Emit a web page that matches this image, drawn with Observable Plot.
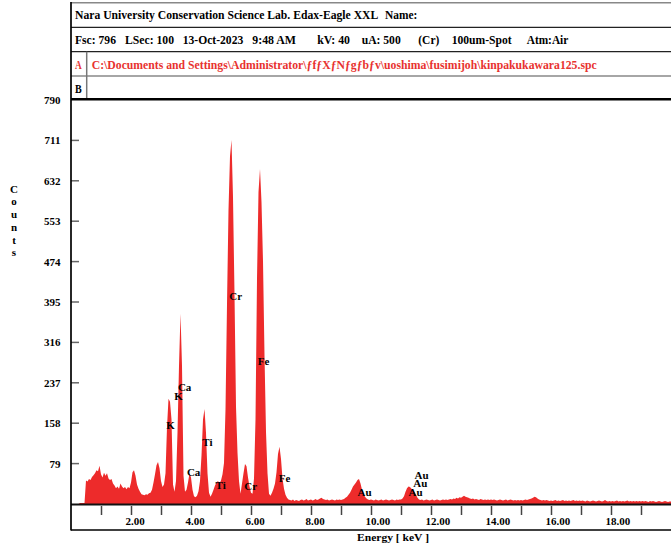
<!DOCTYPE html>
<html><head><meta charset="utf-8">
<script src="https://cdn.jsdelivr.net/npm/d3@7"></script>
<script src="https://cdn.jsdelivr.net/npm/@observablehq/plot@0.6"></script>
<style>
html,body{margin:0;padding:0;background:#fff;}
#chart{position:relative;width:671px;height:550px;overflow:hidden;}
</style></head><body><div id="chart"></div>
<script>
// ---- data ----
const keVStep = 0.05; // channel grid of the values below
const counts = [
  0,0,0,0,0,0,2,2,2,2, 46,44,49,47,53,56,60,66,64,75,
  58,52,61,55,60,50,47,49,40,36, 31,34,30,40,34,31,33,29,33,31,
  42,62,66,55,38,30,24,19,18,17, 19,18,21,22,28,42,58,76,82,70,
  45,33,38,60,150,206,200,165,38,24, 45,140,270,372,270,55,24,28,42,60,
  52,28,15,13,16,25,45,95,165,186, 139,60,22,14,20,28,36,42,45,40,
  46,58,80,185,390,575,680,712,600,410, 190,100,45,20,40,60,78,74,52,34,
  22,20,50,165,440,610,655,590,475,290, 141,60,20,16,22,30,40,62,98,112,
  88,50,30,18,12,9,8,7,9,6, 8,7,6,8,9,7,8,10,7,8,
  9,7,8,10,8,9,11,12,10,9, 8,9,7,8,9,8,7,9,8,9,
  8,9,10,12,14,18,22,28,34,38, 42,47,49,40,28,20,14,11,9,8,
  9,8,7,9,8,7,8,9,7,8, 9,8,7,8,9,8,7,9,8,9,
  9,11,15,24,31,34,33,30,27,23, 18,12,9,8,9,7,8,9,8,7,
  8,9,7,8,9,8,7,8,9,8, 9,8,9,10,9,11,10,12,11,13,
  12,14,16,14,13,12,11,10,11,9, 10,9,8,10,9,8,9,8,9,8,
  9,8,9,8,7,8,9,8,7,8, 9,7,8,9,8,7,8,7,8,7,
  8,7,8,9,8,9,10,11,12,14, 13,11,9,8,7,8,7,8,7,6,
  7,6,7,8,6,7,6,7,8,6, 7,6,7,6,7,8,6,7,6,7,
  6,7,6,5,7,6,5,6,7,6, 5,6,7,6,5,6,8,6,5,6,
  5,6,5,6,7,5,6,5,6,5, 6,7,5,6,5,6,5,6,5,6,
  5,6,5,6,5,4,6,5,6,5, 4,5,6,5,4,5,6,5,4,5,
  5
];
const yTicks = [79,158,237,316,395,474,553,632,711,790];
const xTicks = [1,2,3,4,5,6,7,8,9,10,11,12,13,14,15,16,17,18,19];
const xTickLabels = [2,4,6,8,10,12,14,16,18];
const peakNames  = ["Cr","Fe","Ca","K","K","Ti","Ca","Ti","Cr","Fe","Au","Au","Au","Au"];
const peakEnergy = [5.47,6.40,3.77,3.57,3.30,4.53,4.07,4.97,5.97,7.10,9.77,11.67,11.63,11.47];
const peakCounts = [407,280,229,212,154,121,63,37,35,51,23,57,41,23];
const headerRow1 = ["Nara University Conservation Science Lab. Edax-Eagle XXL","Name:"];
const headerRow2 = ["Fsc: 796","LSec: 100","13-Oct-2023","9:48 AM","kV: 40","uA: 500","(Cr)","100um-Spot","Atm:Air"];
const fileA = "C:\\Documents and Settings\\Administrator\\ƒfƒXƒNƒgƒbƒv\\uoshima\\fusimijoh\\kinpakukawara125.spc";
const yTitle = "Counts";
const xTitle = "Energy [ keV ]";

// ---- build ----
const red = "#ed2b2b";
const font = "'Liberation Serif','Times New Roman',serif";
const spectrum = counts.map((c, i) => ({e: i * keVStep, c}));
const peaks = peakNames.map((n, i) => ({n, e: peakEnergy[i], c: peakCounts[i]}));

const plot = Plot.plot({
  width: 671, height: 550,
  marginLeft: 71, marginRight: 0, marginTop: 100, marginBottom: 46,
  x: {domain: [0, 20], label: null},
  y: {domain: [0, 790], label: null},
  style: {fontFamily: font, fontWeight: "bold", fontSize: "11px", background: "white", color: "black", overflow: "visible"},
  marks: [
    Plot.areaY(spectrum, {x: "e", y: "c", fill: red, curve: "linear"}),
    Plot.ruleY([0], {stroke: "#111", strokeWidth: 2}),
    Plot.axisY({ticks: yTicks, tickSize: 0, tickPadding: 11, tickFormat: d => String(d), label: null, fill: "black"}),
    Plot.axisX({ticks: xTicks, tickSize: 9, dy: 2, tickFormat: () => "", stroke: "#444", strokeWidth: 1.5, label: null}),
    Plot.axisX({ticks: xTickLabels, tickSize: 0, tickPadding: 13, tickFormat: d => d.toFixed(2), textAnchor: "start", dx: -6, label: null, fill: "black"}),
    Plot.text(peaks, {x: "e", y: "c", text: "n", fill: "black", fontWeight: "bold", fontSize: 11})
  ]
});
document.getElementById("chart").appendChild(plot);

const svg = d3.select(plot);
const g = svg.append("g").attr("font-family", font).attr("font-weight", "bold")
  .attr("font-size", 11).attr("text-anchor", "start");
function line(x1, y1, x2, y2, stroke, w) {
  g.append("line").attr("x1", x1).attr("y1", y1).attr("x2", x2).attr("y2", y2)
   .attr("stroke", stroke).attr("stroke-width", w);
}
function txt(s, x, y, len, fill, size) {
  const t = g.append("text").attr("x", x).attr("y", y).attr("fill", fill || "black")
    .attr("text-anchor", "start").text(s);
  if (size) t.attr("font-size", size);
  if (len) t.attr("textLength", len).attr("lengthAdjust", "spacingAndGlyphs");
  return t;
}
// y ticks (inside the frame), positioned by the plot's own y scale
const yScale = plot.scale("y");
yTicks.filter(v => v < 790).forEach(v => {
  const y = yScale.apply(v);
  line(71, y, 79, y, "#666", 1.5);
});
// header box
line(71, 2.7, 671, 2.7, "#888", 1.5);
line(71, 27.3, 671, 27.3, "#222", 1.3);
line(71, 51.7, 671, 51.7, "#222", 1.3);
line(71, 76, 671, 76, "#888", 1.5);
line(86.7, 51.7, 86.7, 99, "#777", 1.5);
line(71, 99.3, 671, 99.3, "#000", 2.5);
// plot box / left border
line(71, 2, 71, 530.5, "#000", 1.7);
line(71, 530, 671, 530, "#000", 1.5);

const hs = 12;
const r1 = [[75, 378.3], [385, 417.3]];
headerRow1.forEach((s, i) => txt(s, r1[i][0], 19.3, r1[i][1] - r1[i][0], "black", hs));
const r2 = [[75,116],[125,174],[182.7,243.3],[252.3,296],[317.3,350],[361.7,400.7],[418.3,439.3],[451.7,511.7],[526.7,568.3]];
headerRow2.forEach((s, i) => txt(s, r2[i][0], 44.3, r2[i][1] - r2[i][0], "black", hs));
txt("A", 75, 69, 6.7, "#e8322f", hs);
txt(fileA, 91.7, 69, 505, "#e8322f", hs);
txt("B", 75, 93.3, 6.7, "black", hs);

// axis titles
const letterY = [192.5, 205, 218, 230.5, 243.5, 256];
yTitle.split("").forEach((ch, i) => txt(ch, 14, letterY[i]).attr("text-anchor", "middle"));
txt(xTitle, 357, 541, 72);
</script></body></html>
